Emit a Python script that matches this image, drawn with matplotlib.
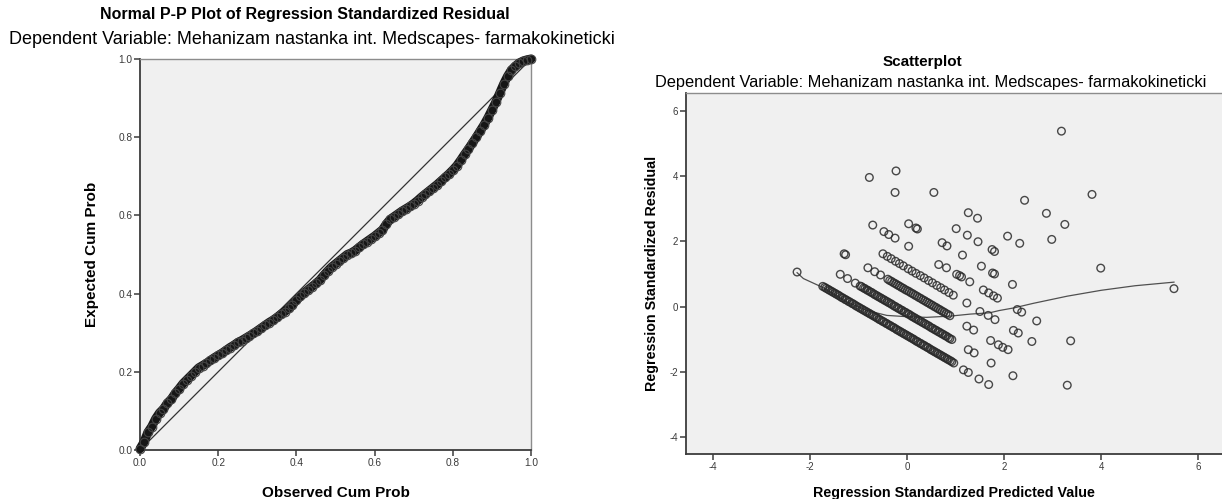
import matplotlib
matplotlib.use('Agg')
from matplotlib import pyplot as plt

plt.rcParams['font.family'] = ['Liberation Sans', 'DejaVu Sans']
plt.rcParams['axes.unicode_minus'] = False

# Normal P-P plot of the standardized residuals
obs_cum = [0.00, 0.01, 0.02, 0.03, 0.04, 0.05, 0.06, 0.07, 0.08, 0.09,
           0.10, 0.11, 0.12, 0.13, 0.14, 0.15, 0.16, 0.17, 0.18, 0.19,
           0.20, 0.21, 0.22, 0.23, 0.24, 0.25, 0.26, 0.27, 0.28, 0.29,
           0.30, 0.31, 0.32, 0.33, 0.34, 0.35, 0.36, 0.37, 0.38, 0.39,
           0.40, 0.41, 0.42, 0.43, 0.44, 0.45, 0.46, 0.47, 0.48, 0.49,
           0.50, 0.51, 0.52, 0.53, 0.54, 0.55, 0.56, 0.57, 0.58, 0.59,
           0.60, 0.61, 0.62, 0.63, 0.64, 0.65, 0.66, 0.67, 0.68, 0.69,
           0.70, 0.71, 0.72, 0.73, 0.74, 0.75, 0.76, 0.77, 0.78, 0.79,
           0.80, 0.81, 0.82, 0.83, 0.84, 0.85, 0.86, 0.87, 0.88, 0.89,
           0.90, 0.91, 0.92, 0.93, 0.94, 0.95, 0.96, 0.97, 0.98, 0.99, 1.00]
exp_cum = [0.003, 0.020, 0.045, 0.060, 0.080, 0.095, 0.105, 0.120, 0.130, 0.145,
           0.157, 0.170, 0.180, 0.190, 0.200, 0.210, 0.216, 0.222, 0.229, 0.236,
           0.242, 0.248, 0.255, 0.262, 0.268, 0.275, 0.280, 0.286, 0.292, 0.298,
           0.305, 0.312, 0.319, 0.326, 0.332, 0.339, 0.347, 0.354, 0.362, 0.372,
           0.383, 0.393, 0.402, 0.410, 0.418, 0.426, 0.435, 0.447, 0.458, 0.468,
           0.476, 0.484, 0.492, 0.500, 0.504, 0.510, 0.518, 0.526, 0.533, 0.540,
           0.547, 0.555, 0.563, 0.578, 0.590, 0.597, 0.604, 0.611, 0.617, 0.623,
           0.630, 0.638, 0.647, 0.655, 0.663, 0.671, 0.679, 0.688, 0.697, 0.706,
           0.716, 0.727, 0.741, 0.756, 0.770, 0.785, 0.800, 0.816, 0.832, 0.850,
           0.870, 0.890, 0.913, 0.936, 0.956, 0.972, 0.982, 0.990, 0.995, 0.998, 1.000]

# scatterplot: standardized predicted value vs standardized residual
pred = [
    # lowest band
    -2.27, -1.74, -1.67, -1.60, -1.53, -1.46, -1.39, -1.32, -1.25, -1.18, -1.11,
    -1.04, -0.97, -0.90, -0.83, -0.76, -0.69, -0.62, -0.55, -0.48, -0.41, -0.34,
    -0.27, -0.20, -0.13, -0.06, 0.01, 0.08, 0.15, 0.22, 0.29, 0.36, 0.43, 0.50,
    0.57, 0.64, 0.71, 0.78, 0.85, 0.92, 0.96, 1.16, 1.26, 1.48, 1.68,
    -1.70, -1.63, -1.56, -1.49, -1.42, -1.35, -1.28, -1.21, -1.14, -1.07, -1.00,
    -0.93, -0.86, -0.79, -0.72, -0.65, -0.58, -0.51, -0.44, -0.37, -0.30, -0.23,
    -0.16, -0.09, -0.02, 0.05, 0.12, 0.19, 0.26, 0.33, 0.40, 0.47, 0.54, 0.61,
    0.68, 0.75, 0.82, 0.89,
    # second band
    -1.38, -1.23, -1.07, -0.97, -0.90, -0.83, -0.76, -0.69, -0.62, -0.55, -0.48,
    -0.41, -0.34, -0.27, -0.20, -0.13, -0.06, 0.01, 0.08, 0.15, 0.22, 0.29, 0.36,
    0.43, 0.50, 0.57, 0.64, 0.71, 0.78, 0.85, 0.92, 1.26, 1.38, 1.73, 2.18,
    -0.94, -0.87, -0.80, -0.73, -0.66, -0.59, -0.52, -0.45, -0.38, -0.31, -0.24,
    -0.17, -0.10, -0.03, 0.04, 0.11, 0.18, 0.25, 0.32, 0.39, 0.46, 0.53, 0.60,
    0.67, 0.74, 0.81, 0.88,
    # third band
    -1.30, -1.27, -0.81, -0.67, -0.55, -0.40, -0.32, -0.24, -0.16, -0.08, 0.00,
    0.08, 0.16, 0.24, 0.32, 0.40, 0.48, 0.56, 0.64, 0.72, 0.80, 0.88, 1.23, 1.37,
    1.72, 1.88, 1.97, 2.08, 3.30,
    -0.36, -0.28, -0.20, -0.12, -0.04, 0.04, 0.12, 0.20, 0.28, 0.36, 0.44, 0.52,
    0.60, 0.68, 0.76, 0.84,
    # fourth band
    -0.50, -0.41, -0.33, -0.24, -0.16, -0.08, 0.02, 0.10, 0.18, 0.27, 0.35, 0.44,
    0.52, 0.61, 0.69, 0.77, 0.86, 0.95, 1.23, 1.50, 1.67, 1.81, 2.19, 2.29, 2.57,
    # fifth band
    -0.71, -0.48, -0.38, -0.25, 0.03, 0.65, 0.81, 1.02, 1.08, 1.12, 1.29, 1.57,
    1.68, 1.78, 1.86, 2.27, 2.36, 2.67, 3.37,
    # upper bands and outliers
    0.03, 0.18, 0.21, 0.72, 0.82, 1.14, 1.53, 1.76, 1.80, 2.17,
    -0.78, -0.25, 1.01, 1.24, 1.46, 1.75, 1.80,
    -0.23, 0.55, 1.26, 1.45, 2.07, 2.32,
    2.98, 3.99, 2.42, 2.87, 3.25, 5.50, 3.81, 3.18,
]
resid = [
    1.06, 0.62, 0.56, 0.50, 0.44, 0.38, 0.32, 0.26, 0.20, 0.14, 0.08,
    0.01, -0.05, -0.11, -0.17, -0.23, -0.29, -0.35, -0.41, -0.47, -0.53, -0.59,
    -0.65, -0.72, -0.78, -0.84, -0.90, -0.96, -1.02, -1.08, -1.14, -1.20, -1.26, -1.33,
    -1.39, -1.45, -1.51, -1.57, -1.63, -1.69, -1.73, -1.94, -2.02, -2.22, -2.39,
    0.59, 0.53, 0.47, 0.41, 0.35, 0.28, 0.22, 0.16, 0.10, 0.04, -0.02,
    -0.08, -0.14, -0.20, -0.26, -0.32, -0.39, -0.45, -0.51, -0.57, -0.63, -0.69,
    -0.75, -0.81, -0.87, -0.93, -0.99, -1.06, -1.12, -1.18, -1.24, -1.30, -1.36, -1.42,
    -1.48, -1.54, -1.60, -1.66,
    0.99, 0.86, 0.72, 0.63, 0.57, 0.51, 0.45, 0.39, 0.33, 0.27, 0.21,
    0.15, 0.09, 0.02, -0.04, -0.10, -0.16, -0.22, -0.28, -0.34, -0.40, -0.46, -0.52,
    -0.58, -0.65, -0.71, -0.77, -0.83, -0.89, -0.95, -1.01, -1.32, -1.42, -1.73, -2.12,
    0.61, 0.55, 0.49, 0.43, 0.36, 0.30, 0.24, 0.18, 0.12, 0.06, 0.00,
    -0.06, -0.12, -0.18, -0.24, -0.31, -0.37, -0.43, -0.49, -0.55, -0.61, -0.67, -0.73,
    -0.79, -0.85, -0.91, -0.98,
    1.62, 1.59, 1.19, 1.07, 0.97, 0.84, 0.77, 0.70, 0.63, 0.56, 0.49,
    0.42, 0.35, 0.28, 0.21, 0.14, 0.07, 0.00, -0.07, -0.14, -0.21, -0.28, -0.60, -0.72,
    -1.04, -1.17, -1.25, -1.32, -2.41,
    0.80, 0.73, 0.66, 0.59, 0.52, 0.46, 0.39, 0.32, 0.25, 0.18, 0.11, 0.04,
    -0.03, -0.10, -0.17, -0.24,
    1.62, 1.54, 1.47, 1.39, 1.32, 1.25, 1.16, 1.09, 1.02, 0.95, 0.88, 0.80,
    0.73, 0.65, 0.58, 0.51, 0.43, 0.35, 0.11, -0.15, -0.27, -0.40, -0.73, -0.81, -1.07,
    2.50, 2.30, 2.21, 2.10, 1.85, 1.29, 1.19, 0.99, 0.95, 0.91, 0.76, 0.51,
    0.42, 0.33, 0.26, -0.09, -0.17, -0.44, -1.05,
    2.54, 2.41, 2.38, 1.96, 1.86, 1.58, 1.24, 1.03, 1.00, 0.68,
    3.96, 3.50, 2.39, 2.19, 1.99, 1.75, 1.69,
    4.16, 3.50, 2.88, 2.71, 2.16, 1.94,
    2.06, 1.18, 3.26, 2.86, 2.52, 0.55, 3.44, 5.38,
]

# loess fit line
fit_x = [-2.27, -2.14, -1.73, -1.24, -0.83, -0.42, 0.00, 0.40, 0.90, 1.30,
         1.70, 1.90, 2.20, 2.60, 3.30, 4.00, 4.70, 5.50]
fit_y = [1.04, 0.86, 0.58, 0.14, -0.12, -0.27, -0.31, -0.33, -0.29, -0.23,
         -0.19, -0.12, -0.04, 0.10, 0.32, 0.50, 0.64, 0.75]

W, H = 1222, 499
fig = plt.figure(figsize=(W / 100, H / 100), dpi=100)
fig.patch.set_facecolor('white')


def style_axes(ax, tick_size):
    ax.set_facecolor('#f0f0f0')
    for side in ('left', 'bottom'):
        ax.spines[side].set_color('#3c3c3c')
        ax.spines[side].set_linewidth(1.3)
    for side in ('top', 'right'):
        ax.spines[side].set_color('#8c8c8c')
        ax.spines[side].set_linewidth(1.0)
    ax.tick_params(direction='out', length=4, width=1.1, color='#3c3c3c',
                   labelsize=tick_size, labelcolor='#3a3a3a', pad=1.5)


# left panel
ax1 = fig.add_axes([140 / W, (H - 450) / H, 391 / W, 391 / H])
style_axes(ax1, 7.3)
ax1.plot([0, 1], [0, 1], color='#333333', lw=0.9, zorder=2)
# the points overlap into one dark band
ax1.plot(obs_cum, exp_cum, color='#161616', lw=6.5, solid_capstyle='round',
         solid_joinstyle='round', zorder=3, clip_on=False)
ax1.plot(obs_cum, exp_cum, 'o', ms=6.2, mfc='none', mec='#444444', mew=0.8,
         zorder=4, clip_on=False)
ax1.set_xlim(0, 1)
ax1.set_ylim(0, 1)
ax1.set_xticks([0, 0.2, 0.4, 0.6, 0.8, 1.0])
ax1.set_yticks([0, 0.2, 0.4, 0.6, 0.8, 1.0])
ax1.xaxis.set_major_formatter(plt.FormatStrFormatter('%.1f'))
ax1.yaxis.set_major_formatter(plt.FormatStrFormatter('%.1f'))
ax1.set_xlabel('Observed Cum Prob', fontsize=11, fontweight='bold', labelpad=13)
ax1.set_ylabel('Expected Cum Prob', fontsize=11, fontweight='bold', labelpad=14)

fig.text(305 / W, 1 - 14 / H, 'Normal P-P Plot of Regression Standardized Residual',
         ha='center', va='center', fontsize=11.5, fontweight='bold')
fig.text(312 / W, 1 - 40 / H,
         'Dependent Variable: Mehanizam nastanka int. Medscapes- farmakokineticki',
         ha='center', va='center', fontsize=13)

# right panel
ax2 = fig.add_axes([686 / W, (H - 454) / H, (W - 686) / W, 361 / H])
style_axes(ax2, 7)
ax2.spines['right'].set_visible(False)
ax2.plot(fit_x, fit_y, color='#505050', lw=0.9, zorder=2)
ax2.scatter(pred, resid, s=30, facecolors='none', edgecolors='#2a2a2a',
            linewidths=1.0, alpha=0.85, zorder=3)
ax2.set_xlim(-4.56, 6.49)
ax2.set_ylim(-4.52, 6.55)
ax2.set_xticks([-4, -2, 0, 2, 4, 6])
ax2.set_yticks([-4, -2, 0, 2, 4, 6])
ax2.set_xlabel('Regression Standardized Predicted Value', fontsize=10.3,
               fontweight='bold', labelpad=10)
ax2.set_ylabel('Regression Standardized Residual', fontsize=10.3,
               fontweight='bold', labelpad=8)

fig.text(922 / W, 1 - 62 / H, 'Scatterplot', ha='center', va='center',
         fontsize=11, fontweight='bold')
fig.text(931 / W, 1 - 83 / H,
         'Dependent Variable: Mehanizam nastanka int. Medscapes- farmakokineticki',
         ha='center', va='center', fontsize=11.8)

fig.savefig('out.png', dpi=100)
